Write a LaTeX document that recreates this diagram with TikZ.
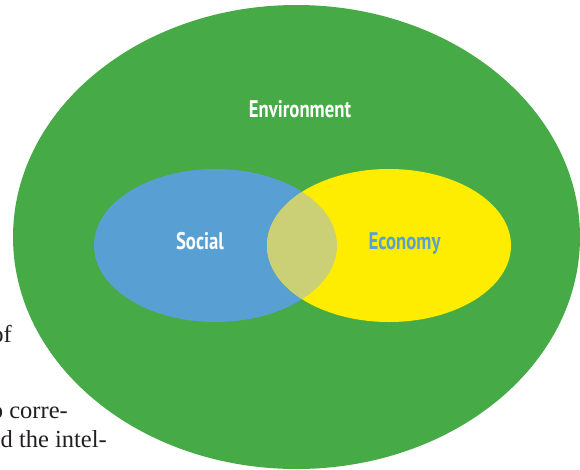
\documentclass[tikz,border=0pt]{standalone}
\usepackage{fontspec}
\setmainfont{Liberation Serif}
\newfontfamily\labfont[FakeStretch=0.78]{PT Sans}
\definecolor{envgreen}{RGB}{70,171,70}
\definecolor{socblue}{RGB}{88,160,211}
\definecolor{ecoyellow}{RGB}{255,237,0}
\definecolor{lensolive}{RGB}{203,207,118}
\definecolor{bodytext}{RGB}{35,31,32}
\tikzset{
  lab/.style={font=\labfont\bfseries\fontsize{24}{28}\selectfont, inner sep=0pt, anchor=base},
  body/.style={font=\fontsize{24.5}{28}\selectfont, text=bodytext, inner sep=0pt, anchor=base east},
}
\begin{document}
\begin{tikzpicture}[x=1pt,y=-1pt]
\useasboundingbox (0,0) rectangle (580,469);
% background text fragments
\node[body] (t1) at (12,342) {of};
\node[body] (t2) at (68,418) {to corre-};
\node[body] (t3) at (107,447) {and the intel-};
% circles
\fill[envgreen] (296.5,237) ellipse [x radius=283.5, y radius=232];
\fill[socblue] (215.5,245.5) ellipse [x radius=121.5, y radius=76.5];
\fill[ecoyellow] (389,245.5) ellipse [x radius=122, y radius=76.5];
\begin{scope}
  \clip (215.5,245.5) ellipse [x radius=121.5, y radius=76.5];
  \fill[lensolive] (389,245.5) ellipse [x radius=122, y radius=76.5];
\end{scope}
% labels
\node[lab, text=white] (env) at (300,117) {Environment};
\node[lab, text=white] (soc) at (200,249) {Social};
\node[lab, text=socblue] (eco) at (404.5,249) {Economy};
\end{tikzpicture}
\end{document}
